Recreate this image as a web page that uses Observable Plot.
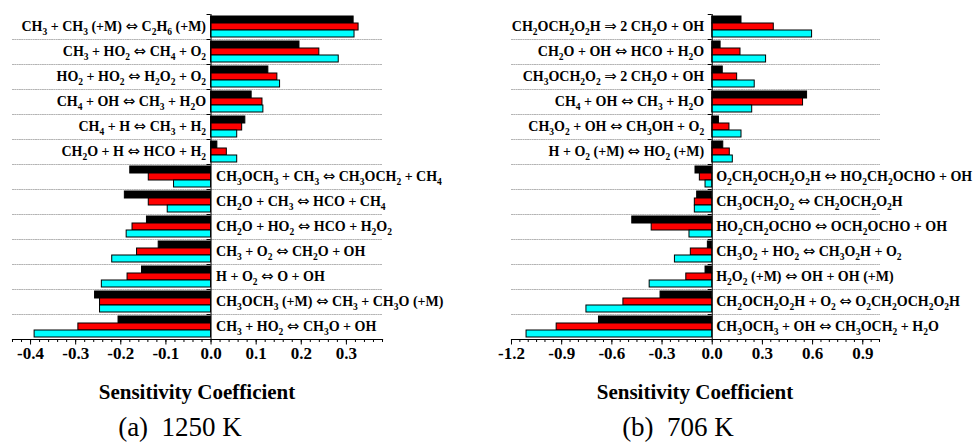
<!DOCTYPE html>
<html>
<head>
<meta charset="utf-8">
<script src="https://cdn.jsdelivr.net/npm/d3@7"></script>
<script src="https://cdn.jsdelivr.net/npm/@observablehq/plot@0.6"></script>
<style>
  html, body { margin: 0; padding: 0; background: #fff; }
  #wrap { position: relative; width: 979px; height: 444px; overflow: hidden; background: #fff; }
  .panel { position: absolute; top: 0; }
  .xlabel { position: absolute; font-family: "Liberation Serif", "Times New Roman", serif; font-weight: bold; font-size: 21px; line-height: 21px; white-space: nowrap; transform: translateX(-50%); color: #000; }
  .caption { position: absolute; font-family: "Liberation Serif", "Times New Roman", serif; font-size: 27px; line-height: 27px; white-space: pre; transform: translateX(-50%); color: #000; }
</style>
</head>
<body>
<div id="wrap"></div>
<script>
// ---------- data ----------
const series = ["S1", "S2", "S3"];
const seriesColors = ["#000000", "#ff0000", "#00ffff"];

// (a) 1250 K
const reactionsA = [
  "CH3 + CH3 (+M) \u21D4 C2H6 (+M)",
  "CH3 + HO2 \u21D4 CH4 + O2",
  "HO2 + HO2 \u21D4 H2O2 + O2",
  "CH4 + OH \u21D4 CH3 + H2O",
  "CH4 + H \u21D4 CH3 + H2",
  "CH2O + H \u21D4 HCO + H2",
  "CH3OCH3 + CH3 \u21D4 CH3OCH2 + CH4",
  "CH2O + CH3 \u21D4 HCO + CH4",
  "CH2O + HO2 \u21D4 HCO + H2O2",
  "CH3 + O2 \u21D4 CH2O + OH",
  "H + O2 \u21D4 O + OH",
  "CH3OCH3 (+M) \u21D4 CH3 + CH3O (+M)",
  "CH3 + HO2 \u21D4 CH3O + OH"
];
const blackA = [0.316, 0.196, 0.127, 0.090, 0.076, 0.014, -0.179, -0.191, -0.142, -0.116, -0.153, -0.257, -0.205];
const redA   = [0.327, 0.240, 0.147, 0.114, 0.069, 0.035, -0.138, -0.138, -0.174, -0.164, -0.185, -0.246, -0.294];
const cyanA  = [0.318, 0.283, 0.153, 0.116, 0.058, 0.058, -0.082, -0.096, -0.187, -0.219, -0.242, -0.246, -0.391];
const ticksA = [-0.4, -0.3, -0.2, -0.1, 0.0, 0.1, 0.2, 0.3];
const domainA = [-0.44, 0.38];

// (b) 706 K
const reactionsB = [
  "CH2OCH2O2H \u21D2 2 CH2O + OH",
  "CH2O + OH \u21D4 HCO + H2O",
  "CH3OCH2O2 \u21D2 2 CH2O + OH",
  "CH4 + OH \u21D4 CH3 + H2O",
  "CH3O2 + OH \u21D4 CH3OH + O2",
  "H + O2 (+M) \u21D4 HO2 (+M)",
  "O2CH2OCH2O2H \u21D4 HO2CH2OCHO + OH",
  "CH3OCH2O2 \u21D4 CH2OCH2O2H",
  "HO2CH2OCHO \u21D4 OCH2OCHO + OH",
  "CH3O2 + HO2 \u21D4 CH3O2H + O2",
  "H2O2 (+M) \u21D4 OH + OH (+M)",
  "CH2OCH2O2H + O2 \u21D4 O2CH2OCH2O2H",
  "CH3OCH3 + OH \u21D4 CH3OCH2 + H2O"
];
const blackB = [0.175, 0.050, 0.063, 0.567, 0.040, 0.066, -0.100, -0.090, -0.478, -0.026, -0.040, -0.309, -0.677];
const redB   = [0.368, 0.169, 0.149, 0.543, 0.103, 0.105, -0.074, -0.104, -0.362, -0.128, -0.155, -0.531, -0.930];
const cyanB  = [0.597, 0.322, 0.254, 0.239, 0.175, 0.123, -0.040, -0.104, -0.136, -0.223, -0.374, -0.752, -1.110];
const ticksB = [-1.2, -0.9, -0.6, -0.3, 0.0, 0.3, 0.6, 0.9];
const domainB = [-1.2, 1.0];

const axisTitle = "Sensitivity Coefficient";
const captionA = "(a)  1250 K";
const captionB = "(b)  706 K";

const serifFont = "'Liberation Serif', 'Times New Roman', serif";

// ---------- helpers ----------
// turns element counts into subscripts and draws the arrows in a larger glyph
function subscriptify(el) {
  const str = el.textContent;
  const segs = [];
  for (let i = 0; i < str.length; i++) {
    const c = str[i];
    const prev = i > 0 ? str[i - 1] : "";
    let kind = "n";
    if (c === "\u21D4" || c === "\u21D2") kind = "a";
    else if (/\d/.test(c) && (/[A-Za-z]/.test(prev) || (segs.length && segs[segs.length - 1].kind === "s" && /\d/.test(prev)))) kind = "s";
    if (segs.length && segs[segs.length - 1].kind === kind && kind !== "a") segs[segs.length - 1].t += c;
    else segs.push({t: c, kind});
  }
  el.textContent = "";
  let shifted = false;
  for (const s of segs) {
    const ts = document.createElementNS("http://www.w3.org/2000/svg", "tspan");
    ts.textContent = s.t;
    if (s.kind === "s") {
      ts.setAttribute("font-size", "9.5");
      ts.setAttribute("dy", "4");
      shifted = true;
    } else {
      if (shifted) { ts.setAttribute("dy", "-4"); shifted = false; }
      if (s.kind === "a") {
        ts.setAttribute("font-family", "'DejaVu Sans', sans-serif");
        ts.setAttribute("font-weight", "normal");
        ts.setAttribute("font-size", "15");
      }
    }
    el.appendChild(ts);
  }
}

function panel({reactions, values, domain, ticks, minorStep, width, marginLeft, marginRight, labelGap}) {
  const rows = reactions.flatMap((r, i) => series.map((s, j) => ({r, s, v: values[j][i]})));
  const positive = reactions.filter((r, i) => d3.mean(values, (vals) => vals[i]) >= 0);
  const negative = reactions.filter((r, i) => d3.mean(values, (vals) => vals[i]) < 0);
  const minor = d3.range(Math.round(domain[0] / minorStep), Math.round(domain[1] / minorStep) + 1).map((k) => +(k * minorStep).toFixed(4));

  const plot = Plot.plot({
    width,
    height: 375,
    marginLeft,
    marginRight,
    marginTop: 9,
    marginBottom: 31,
    style: {fontFamily: serifFont, background: "transparent", overflow: "visible"},
    x: {domain, axis: null, label: null},
    y: {domain: series, paddingInner: 0, paddingOuter: 0.27, align: 0.6, axis: null},
    fy: {domain: reactions, padding: 0, axis: null},
    color: {domain: series, range: seriesColors},
    marks: [
      Plot.frame({anchor: "bottom", stroke: "#b4b4b4", strokeDasharray: "1,1.3", strokeWidth: 1}),
      Plot.barX(rows, {fy: "r", y: "s", x: "v", fill: "s", stroke: "#000", strokeWidth: 1}),
      Plot.ruleX([0], {stroke: "#000", strokeWidth: 1}),
      Plot.frame({anchor: "bottom", stroke: "#000", strokeWidth: 1.2, facetAnchor: "bottom"}),
      Plot.axisX({ticks: minor, tickSize: 3, text: null, label: null, stroke: "#000"}),
      Plot.axisX({
        ticks, tickSize: 5.5, tickPadding: 1.5, stroke: "#000", fill: "#000",
        tickFormat: (d) => d.toFixed(1), fontSize: 17, fontWeight: "bold", label: null
      }),
      Plot.text(positive, {fy: (d) => d, x: 0, text: (d) => d, textAnchor: "end", dx: -labelGap[0], fontSize: 14, fontWeight: "bold", fill: "#000", className: "rxn"}),
      Plot.text(negative, {fy: (d) => d, x: 0, text: (d) => d, textAnchor: "start", dx: labelGap[1], fontSize: 14, fontWeight: "bold", fill: "#000", className: "rxn"})
    ]
  });

  plot.querySelectorAll("g.rxn text").forEach(subscriptify);

  // small ticks on the zero line at the group boundaries
  const fy = plot.scale("fy");
  const xs = plot.scale("x");
  const x0 = xs.apply(0);
  const g = d3.select(plot).append("g").attr("stroke", "#000").attr("stroke-width", 1);
  for (const r of reactions) {
    const yy = Math.round(fy.apply(r)) + 0.5;
    g.append("line").attr("x1", x0 - 4).attr("x2", x0).attr("y1", yy).attr("y2", yy);
  }
  return {plot, center: (xs.apply(domain[0]) + xs.apply(domain[1])) / 2};
}

const wrap = document.getElementById("wrap");

const A = panel({
  reactions: reactionsA, values: [blackA, redA, cyanA], domain: domainA, ticks: ticksA, minorStep: 0.02,
  width: 490, marginLeft: 12, marginRight: 108, labelGap: [5, 5]
});
const B = panel({
  reactions: reactionsB, values: [blackB, redB, cyanB], domain: domainB, ticks: ticksB, minorStep: 0.05,
  width: 489, marginLeft: 21, marginRight: 100, labelGap: [8, 4]
});

function place(p, left, caption) {
  const d = document.createElement("div");
  d.className = "panel";
  d.style.left = left + "px";
  d.appendChild(p.plot);
  wrap.appendChild(d);
  const xl = document.createElement("div");
  xl.className = "xlabel";
  xl.textContent = axisTitle;
  xl.style.left = (left + p.center) + "px";
  xl.style.top = "382px";
  wrap.appendChild(xl);
  const cap = document.createElement("div");
  cap.className = "caption";
  cap.textContent = caption;
  cap.style.left = (left + p.center - 17) + "px";
  cap.style.top = "414px";
  wrap.appendChild(cap);
}
place(A, 0, captionA);
place(B, 490, captionB);
</script>
</body>
</html>
